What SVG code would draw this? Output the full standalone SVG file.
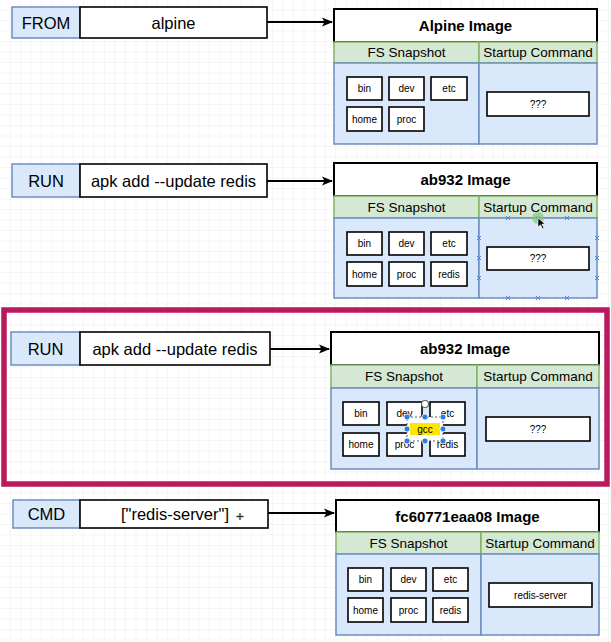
<svg xmlns="http://www.w3.org/2000/svg" width="611" height="642" viewBox="0 0 611 642">
<style>
.k{fill:#dae8fc;stroke:#6c8ebf;stroke-width:1.5}
.v{fill:#fff;stroke:#000;stroke-width:1.6}
.t{fill:#fff;stroke:#000;stroke-width:2}
.h{fill:#d5e8d4;stroke:#82b366;stroke-width:1.5}
.b{fill:#dae8fc;stroke:#6c8ebf;stroke-width:1.5}
.s{fill:#fff;stroke:#000;stroke-width:1.6}
text{font-family:"Liberation Sans",Arial,sans-serif;fill:#000;text-anchor:middle;dominant-baseline:central}
.lg{font-size:16.5px}
.ti{font-size:15px;font-weight:bold}
.hd{font-size:13.5px}
.sm{font-size:10px}
.cn{fill:none;stroke:#000;stroke-width:2}
.hx{stroke:#4a86e8;stroke-width:1}
.hd2{fill:#2a7de1;stroke:#fff;stroke-width:0.8}
</style>
<defs>
<pattern id="grid" width="10.5" height="10.5" patternUnits="userSpaceOnUse">
<path d="M10.5 0V10.5H0" fill="none" stroke="#ececec" stroke-width="1"/>
</pattern>
<marker id="ar" markerWidth="11" markerHeight="10" refX="10" refY="5" orient="auto" markerUnits="userSpaceOnUse">
<path d="M0 0.5L11 5L0 9.5L2.5 5z" fill="#000"/>
</marker>
</defs>
<rect width="611" height="642" fill="#fff"/>
<rect width="611" height="642" fill="url(#grid)"/>

<g id="connectors">
<path class="cn" d="M267 22H332" marker-end="url(#ar)"/>
<path class="cn" d="M267 181H332" marker-end="url(#ar)"/>
<path class="cn" d="M270 349H329" marker-end="url(#ar)"/>
<path class="cn" d="M268 513H334" marker-end="url(#ar)"/>
</g>

<g id="step1">
<g id="from-kw"><rect class="k" x="12" y="7" width="68" height="31"/><text class="lg" x="46" y="22.5">FROM</text></g>
<g id="from-val"><rect class="v" x="80" y="7" width="187" height="31"/><text class="lg" x="173.5" y="22.5">alpine</text></g>
<g id="img1">
<rect class="t" x="334" y="9" width="263" height="33"/><text class="ti" x="465.5" y="25.5">Alpine Image</text>
<rect class="h" x="334" y="42" width="145" height="21"/><text class="hd" x="406.5" y="52.5">FS Snapshot</text>
<rect class="h" x="479" y="42" width="118" height="21"/><text class="hd" x="538" y="52.5">Startup Command</text>
<rect class="b" x="334" y="63" width="145" height="81"/>
<rect class="b" x="479" y="63" width="118" height="81"/>
<rect class="s" x="347" y="77" width="35" height="23"/><text class="sm" x="364.5" y="88.5">bin</text>
<rect class="s" x="389" y="77" width="35" height="23"/><text class="sm" x="406.5" y="88.5">dev</text>
<rect class="s" x="431" y="77" width="36" height="23"/><text class="sm" x="449" y="88.5">etc</text>
<rect class="s" x="347" y="107" width="35" height="24"/><text class="sm" x="364.5" y="119">home</text>
<rect class="s" x="389" y="107" width="35" height="24"/><text class="sm" x="406.5" y="119">proc</text>
<rect class="s" x="487" y="92" width="102" height="24"/><text class="sm" x="538" y="104">???</text>
</g>
</g>

<g id="step2">
<g id="run1-kw"><rect class="k" x="12" y="164" width="68" height="33"/><text class="lg" x="46" y="180.5">RUN</text></g>
<g id="run1-val"><rect class="v" x="80" y="164" width="187" height="33"/><text class="lg" x="173.5" y="180.5">apk add --update redis</text></g>
<g id="img2">
<rect class="t" x="334" y="163" width="263" height="33"/><text class="ti" x="465.5" y="179.5">ab932 Image</text>
<rect class="h" x="334" y="196" width="145" height="22"/><text class="hd" x="406.5" y="207">FS Snapshot</text>
<rect class="h" x="479" y="196" width="118" height="22"/><text class="hd" x="538" y="207">Startup Command</text>
<rect class="b" x="334" y="218" width="145" height="80"/>
<rect class="b" x="479" y="218" width="118" height="80"/>
<rect class="s" x="347" y="232" width="35" height="23"/><text class="sm" x="364.5" y="243.5">bin</text>
<rect class="s" x="389" y="232" width="35" height="23"/><text class="sm" x="406.5" y="243.5">dev</text>
<rect class="s" x="431" y="232" width="36" height="23"/><text class="sm" x="449" y="243.5">etc</text>
<rect class="s" x="347" y="262" width="35" height="24"/><text class="sm" x="364.5" y="274">home</text>
<rect class="s" x="389" y="262" width="35" height="24"/><text class="sm" x="406.5" y="274">proc</text>
<rect class="s" x="431" y="262" width="36" height="24"/><text class="sm" x="449" y="274">redis</text>
<rect class="s" x="487" y="247" width="102" height="23"/><text class="sm" x="538" y="258.5">???</text>
<path class="hx" d="M506 216l4 4m0-4l-4 4M536 216l4 4m0-4l-4 4M565 216l4 4m0-4l-4 4M506 296l4 4m0-4l-4 4M536 296l4 4m0-4l-4 4M565 296l4 4m0-4l-4 4M477 236l4 4m0-4l-4 4M477 256l4 4m0-4l-4 4M477 276l4 4m0-4l-4 4M595 236l4 4m0-4l-4 4M595 256l4 4m0-4l-4 4M595 276l4 4m0-4l-4 4"/>
<circle cx="538" cy="218" r="6" fill="#7bc46b" opacity="0.6"/>
<path d="M538 218l0 9l2.5-2.2l2 4l1.4-0.7l-2-4l3.2-0.2z" fill="#000" stroke="#fff" stroke-width="0.6"/>
</g>
</g>

<g id="step3">
<rect x="4" y="310" width="603" height="174" fill="none" stroke="#b8195f" stroke-width="5.5"/>
<g id="run2-kw"><rect class="k" x="11" y="332" width="69" height="33"/><text class="lg" x="45.5" y="348.5">RUN</text></g>
<g id="run2-val"><rect class="v" x="80" y="332" width="190" height="33"/><text class="lg" x="175" y="348.5">apk add --update redis</text></g>
<g id="img3">
<rect class="t" x="331" y="332" width="268" height="33"/><text class="ti" x="465" y="348.5">ab932 Image</text>
<rect class="h" x="331" y="365" width="146" height="23"/><text class="hd" x="404" y="376.5">FS Snapshot</text>
<rect class="h" x="477" y="365" width="122" height="23"/><text class="hd" x="538" y="376.5">Startup Command</text>
<rect class="b" x="331" y="388" width="146" height="81"/>
<rect class="b" x="477" y="388" width="122" height="81"/>
<rect class="s" x="343" y="402" width="36" height="23"/><text class="sm" x="361" y="413.5">bin</text>
<rect class="s" x="387" y="402" width="35" height="23"/><text class="sm" x="404.5" y="413.5">dev</text>
<rect class="s" x="430" y="402" width="35" height="23"/><text class="sm" x="447.5" y="413.5">etc</text>
<rect class="s" x="343" y="433" width="36" height="23"/><text class="sm" x="361" y="444.5">home</text>
<rect class="s" x="387" y="433" width="35" height="23"/><text class="sm" x="404.5" y="444.5">proc</text>
<rect class="s" x="430" y="433" width="35" height="23"/><text class="sm" x="447.5" y="444.5">redis</text>
<rect class="s" x="486" y="417" width="104" height="24"/><text class="sm" x="538" y="429">???</text>
</g>
<g id="gcc">
<rect x="407" y="417" width="36" height="24" fill="#fff"/>
<rect x="410" y="423" width="30" height="12" fill="#ffe600"/>
<text class="sm" x="425" y="429">gcc</text>
<rect x="407" y="417" width="36" height="24" fill="none" stroke="#333" stroke-width="0.8" stroke-dasharray="2 2"/>
<circle cx="425" cy="404" r="3.5" fill="#fff" stroke="#666" stroke-width="1.2"/>
<circle class="hd2" cx="407" cy="417" r="3"/><circle class="hd2" cx="425" cy="417" r="3"/><circle class="hd2" cx="443" cy="417" r="3"/>
<circle class="hd2" cx="407" cy="429" r="3"/><circle class="hd2" cx="443" cy="429" r="3"/>
<circle class="hd2" cx="407" cy="441" r="3"/><circle class="hd2" cx="425" cy="441" r="3"/><circle class="hd2" cx="443" cy="441" r="3"/>
</g>
</g>

<g id="step4">
<g id="cmd-kw"><rect class="k" x="13" y="500" width="67" height="28"/><text class="lg" x="46.5" y="514">CMD</text></g>
<g id="cmd-val"><rect class="v" x="80" y="500" width="188" height="28"/><text class="lg" x="175" y="514">["redis-server"]</text></g>
<path d="M240 513v7M236.5 516.5h7" stroke="#333" stroke-width="1.3"/>
<g id="img4">
<rect class="t" x="336" y="500" width="263" height="32"/><text class="ti" x="467.5" y="516">fc60771eaa08 Image</text>
<rect class="h" x="336" y="532" width="145" height="22"/><text class="hd" x="408.5" y="543">FS Snapshot</text>
<rect class="h" x="481" y="532" width="118" height="22"/><text class="hd" x="540" y="543">Startup Command</text>
<rect class="b" x="336" y="554" width="145" height="81"/>
<rect class="b" x="481" y="554" width="118" height="81"/>
<rect class="s" x="348" y="568" width="35" height="23"/><text class="sm" x="365.5" y="579.5">bin</text>
<rect class="s" x="391" y="568" width="35" height="23"/><text class="sm" x="408.5" y="579.5">dev</text>
<rect class="s" x="433" y="568" width="35" height="23"/><text class="sm" x="450.5" y="579.5">etc</text>
<rect class="s" x="348" y="598" width="35" height="24"/><text class="sm" x="365.5" y="610">home</text>
<rect class="s" x="391" y="598" width="35" height="24"/><text class="sm" x="408.5" y="610">proc</text>
<rect class="s" x="433" y="598" width="35" height="24"/><text class="sm" x="450.5" y="610">redis</text>
<rect class="s" x="489" y="583" width="103" height="24"/><text class="sm" x="540.5" y="595">redis-server</text>
</g>
</g>
</svg>
